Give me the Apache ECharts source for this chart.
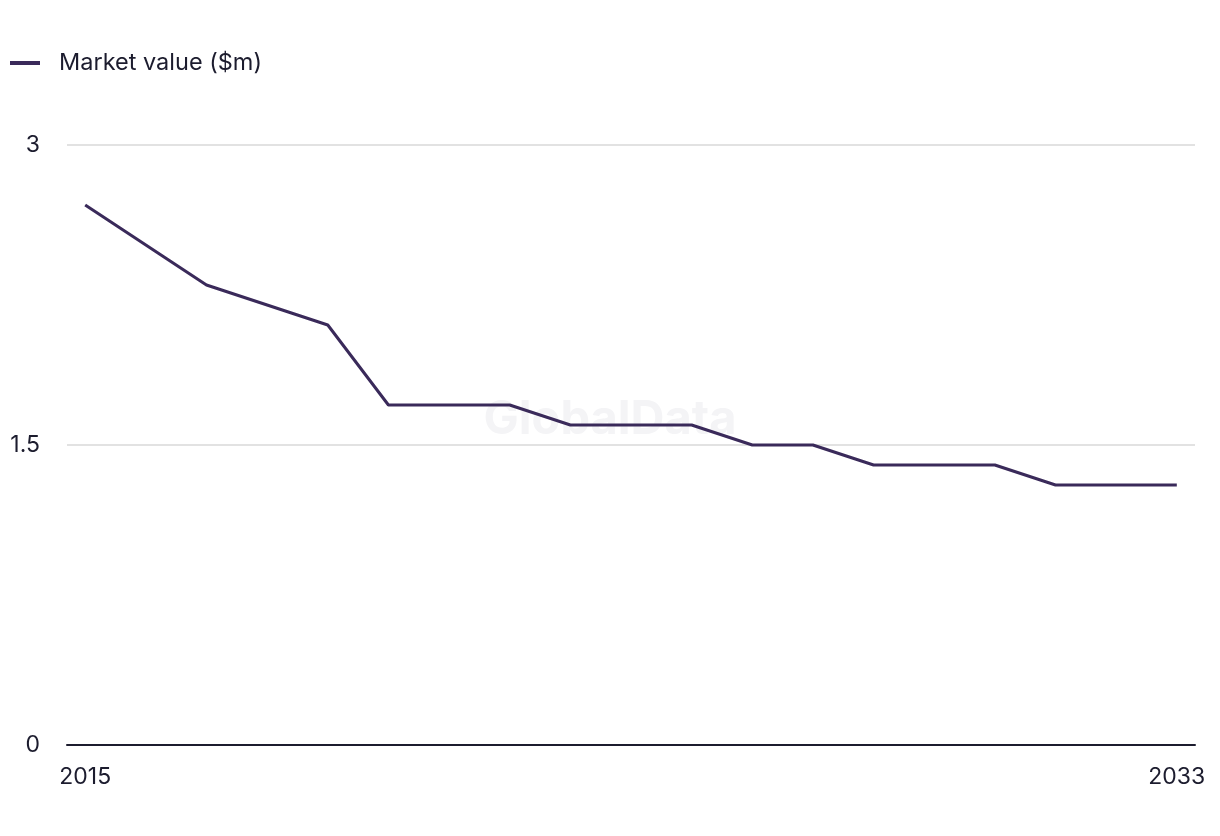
<!DOCTYPE html>
<html>
<head>
<meta charset="utf-8">
<script src="https://cdn.jsdelivr.net/npm/echarts@6/dist/echarts.min.js"></script>
<style>html,body{margin:0;padding:0;background:#fff;}#c{width:1220px;height:836px;}</style>
</head>
<body>
<div id="c"></div>
<script>
const years = [2015,2016,2017,2018,2019,2020,2021,2022,2023,2024,2025,2026,2027,2028,2029,2030,2031,2032,2033];
const marketValue = [2.7,2.5,2.3,2.2,2.1,1.7,1.7,1.7,1.6,1.6,1.6,1.5,1.5,1.4,1.4,1.4,1.3,1.3,1.3];
const xTickLabels = [2015, 2033];
const yTicks = [0, 1.5, 3];
const seriesName = 'Market value ($m)';

const chart = echarts.init(document.getElementById('c'), null, {renderer:'canvas'});
const font = 'Inter, "Liberation Sans", sans-serif';
chart.setOption({
  animation:false,
  backgroundColor:'#fff',
  graphic:[{type:'text', left:'center', top:396, z:-1, silent:true,
    style:{text:'GlobalData', fill:'#f4f4f6', font:'bold 47px ' + font}}],
  legend:{left:5, top:46, itemWidth:30, itemHeight:4, itemGap:20,
    icon:'rect',
    textStyle:{fontSize:23.5, color:'#1c1c2e', fontFamily:font, padding:[0,0,0,14]},
    data:[{name:seriesName}]},
  grid:{left:67, right:25, top:145, bottom:91, containLabel:false},
  xAxis:{type:'value', min:2014.7, max:2033.3,
    axisLine:{show:true, lineStyle:{color:'#1c1c2e', width:2}},
    axisTick:{show:false}, splitLine:{show:false},
    axisLabel:{customValues:xTickLabels, showMinLabel:true, showMaxLabel:true,
      color:'#1c1c2e', fontSize:23, fontFamily:font, margin:21, formatter:v=>String(v)}},
  yAxis:{type:'value', min:0, max:3, interval:1.5,
    axisLine:{show:false}, axisTick:{show:false},
    splitLine:{lineStyle:{color:'#d9d9d9', width:1.5}},
    axisLabel:{color:'#1c1c2e', fontSize:23, fontFamily:font, margin:27,
      formatter:v=>String(v)}},
  series:[{name:seriesName, type:'line', data:years.map((y,i)=>[y, marketValue[i]]),
    symbol:'none', lineStyle:{color:'#3a2a5a', width:3}, itemStyle:{color:'#3a2a5a'}}]
});
</script>
</body>
</html>
